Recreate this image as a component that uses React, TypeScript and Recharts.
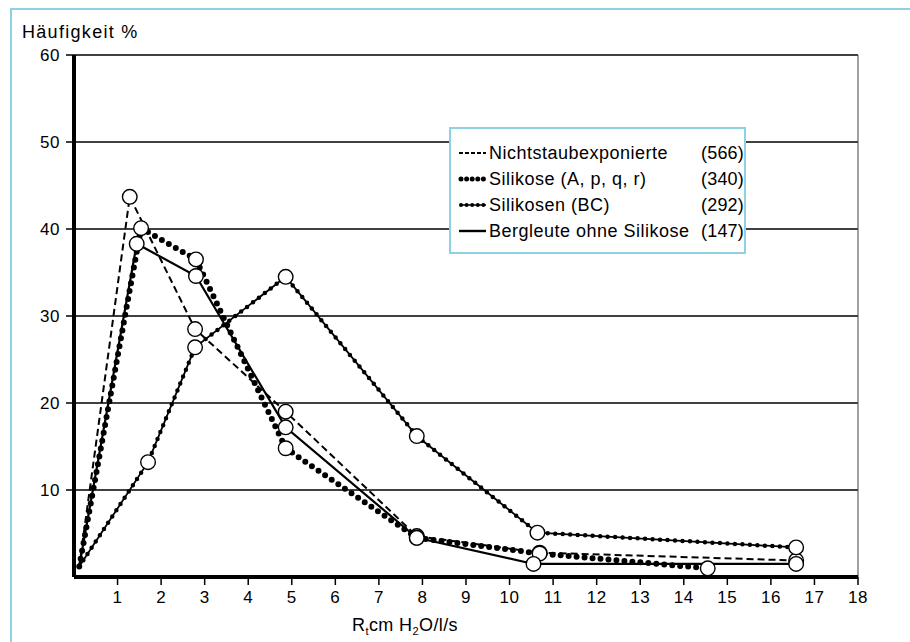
import React from 'react';
import { LineChart, Line, XAxis, YAxis, CartesianGrid, ReferenceLine } from 'recharts';

const xTicks = [1, 2, 3, 4, 5, 6, 7, 8, 9, 10, 11, 12, 13, 14, 15, 16, 17, 18];
const yTicks = [10, 20, 30, 40, 50, 60];

const nichtX = [0.12, 1.28, 2.78, 4.86, 7.87, 10.69, 16.58];
const nichtY = [1.2, 43.7, 28.5, 19.0, 4.7, 2.8, 1.9];
const silikoseX = [0.12, 1.54, 2.8, 4.86, 7.87, 10.69, 14.55];
const silikoseY = [1.2, 40.1, 36.5, 14.8, 4.5, 2.7, 1.0];
const bcX = [0.12, 1.7, 2.78, 4.86, 7.87, 10.64, 16.58];
const bcY = [1.2, 13.2, 26.4, 34.5, 16.2, 5.1, 3.4];
const bergX = [0.12, 1.44, 2.8, 4.86, 7.87, 10.55, 16.58];
const bergY = [1.2, 38.3, 34.6, 17.2, 4.5, 1.5, 1.5];

const legendNames = ['Nichtstaubexponierte', 'Silikose (A, p, q, r)', 'Silikosen (BC)', 'Bergleute ohne Silikose'];
const legendCounts = ['(566)', '(340)', '(292)', '(147)'];

const toRows = (xs: number[], ys: number[]) => xs.map((x, i) => ({ x, y: ys[i] }));

const nichtData = toRows(nichtX, nichtY);
const silikoseData = toRows(silikoseX, silikoseY);
const bcData = toRows(bcX, bcY);
const bergData = toRows(bergX, bergY);

const FONT = '"Liberation Sans", Arial, Helvetica, sans-serif';

const openDot = (props: any) => {
  const { cx, cy, index } = props;
  if (index === 0 || cx == null || cy == null) return <g key={`e-${index}`} />;
  return <circle key={`c-${index}`} cx={cx} cy={cy} r={7.3} fill="#fff" stroke="#000" strokeWidth={1.4} />;
};

const LegendSample = ({ kind }: { kind: number }) => (
  <svg width={30} height={12} style={{ display: 'block' }}>
    {kind === 0 && <line x1={1} y1={6} x2={28} y2={6} stroke="#000" strokeWidth={2} strokeDasharray="4 2" />}
    {kind === 1 && <line x1={3} y1={6} x2={28} y2={6} stroke="#000" strokeWidth={5} strokeDasharray="0 5.6" strokeLinecap="round" />}
    {kind === 2 && (
      <g>
        <line x1={2} y1={6} x2={28} y2={6} stroke="#000" strokeWidth={1.5} />
        <line x1={3} y1={6} x2={28} y2={6} stroke="#000" strokeWidth={4} strokeDasharray="0 5.6" strokeLinecap="round" />
      </g>
    )}
    {kind === 3 && <line x1={1} y1={6} x2={28} y2={6} stroke="#000" strokeWidth={2.4} />}
  </svg>
);

export default function App() {
  const tickStyle = { fill: '#000', fontSize: 17, fontFamily: FONT, letterSpacing: 0.5 };
  const subStyle: React.CSSProperties = { fontSize: 11, verticalAlign: 'baseline', position: 'relative', top: 4 };
  return (
    <div style={{ position: 'absolute', left: 0, top: 0, width: 910, height: 642, background: '#fff', fontFamily: FONT, overflow: 'hidden' }}>
      <div style={{ position: 'absolute', left: 10, top: 8, width: 900, height: 2, background: '#8fd0e3' }} />
      <div style={{ position: 'absolute', left: 10, top: 8, width: 2, height: 634, background: '#8fd0e3' }} />
      <div style={{ position: 'absolute', left: 22, top: 22, fontSize: 18, lineHeight: '20px', letterSpacing: 1.3, color: '#000' }}>
        Häufigkeit %
      </div>
      <div style={{ position: 'absolute', left: 0, top: 0 }}>
        <LineChart width={910} height={642} margin={{ top: 55, right: 52, bottom: 35, left: 0 }}>
          <CartesianGrid vertical={false} stroke="#000" strokeWidth={1.3} strokeOpacity={1} />
          <XAxis
            dataKey="x"
            type="number"
            domain={[0, 18]}
            ticks={xTicks}
            allowDecimals={false}
            height={30}
            axisLine={{ stroke: '#000', strokeWidth: 4 }}
            tickLine={{ stroke: '#000', strokeWidth: 1.5 }}
            tickSize={8}
            tickMargin={6}
            tick={tickStyle}
            interval={0}
          />
          <YAxis
            dataKey="y"
            type="number"
            domain={[0, 60]}
            ticks={yTicks}
            width={74}
            axisLine={{ stroke: '#000', strokeWidth: 4 }}
            tickLine={{ stroke: '#000', strokeWidth: 1.5 }}
            tickSize={8}
            tickMargin={6}
            tick={tickStyle}
            interval={0}
          />
          <ReferenceLine x={18} stroke="#444" strokeWidth={1} />
          <Line data={nichtData} dataKey="y" type="linear" stroke="#000" strokeWidth={2} strokeDasharray="7 4" dot={false} isAnimationActive={false} />
          <Line data={silikoseData} dataKey="y" type="linear" stroke="#000" strokeWidth={6} strokeDasharray="0 8" strokeLinecap="round" dot={false} isAnimationActive={false} />
          <Line data={bcData} dataKey="y" type="linear" stroke="#000" strokeWidth={1.8} dot={false} isAnimationActive={false} />
          <Line data={bcData} dataKey="y" type="linear" stroke="#000" strokeWidth={4.5} strokeDasharray="0 7.5" strokeLinecap="round" dot={false} isAnimationActive={false} />
          <Line data={bergData} dataKey="y" type="linear" stroke="#000" strokeWidth={2.2} dot={false} isAnimationActive={false} />
          <Line data={nichtData} dataKey="y" type="linear" stroke="none" strokeWidth={0} dot={openDot} activeDot={false} isAnimationActive={false} />
          <Line data={silikoseData} dataKey="y" type="linear" stroke="none" strokeWidth={0} dot={openDot} activeDot={false} isAnimationActive={false} />
          <Line data={bcData} dataKey="y" type="linear" stroke="none" strokeWidth={0} dot={openDot} activeDot={false} isAnimationActive={false} />
          <Line data={bergData} dataKey="y" type="linear" stroke="none" strokeWidth={0} dot={openDot} activeDot={false} isAnimationActive={false} />
        </LineChart>
      </div>
      <div
        style={{
          position: 'absolute',
          left: 449,
          top: 127,
          width: 293,
          height: 123,
          border: '2px solid #8fd0e3',
          background: '#fff',
        }}
      >
        {legendNames.map((name, i) => (
          <div key={name} style={{ position: 'absolute', left: 7, top: 13 + i * 26, height: 22, width: 285 }}>
            <div style={{ position: 'absolute', left: 0, top: 5 }}>
              <LegendSample kind={i} />
            </div>
            <div style={{ position: 'absolute', left: 31, top: 0, fontSize: 18, lineHeight: '22px', letterSpacing: 0.5, whiteSpace: 'nowrap', color: '#000' }}>
              {name}
            </div>
            <div style={{ position: 'absolute', left: 243, top: 0, fontSize: 18, lineHeight: '22px', letterSpacing: 0.2, whiteSpace: 'nowrap', color: '#000' }}>
              {legendCounts[i]}
            </div>
          </div>
        ))}
      </div>
      <div style={{ position: 'absolute', left: 352, top: 614, fontSize: 18, lineHeight: '22px', letterSpacing: 0.4, whiteSpace: 'nowrap', color: '#000' }}>
        R<sub style={subStyle}>t</sub>cm H<sub style={subStyle}>2</sub>O/l/s
      </div>
    </div>
  );
}
